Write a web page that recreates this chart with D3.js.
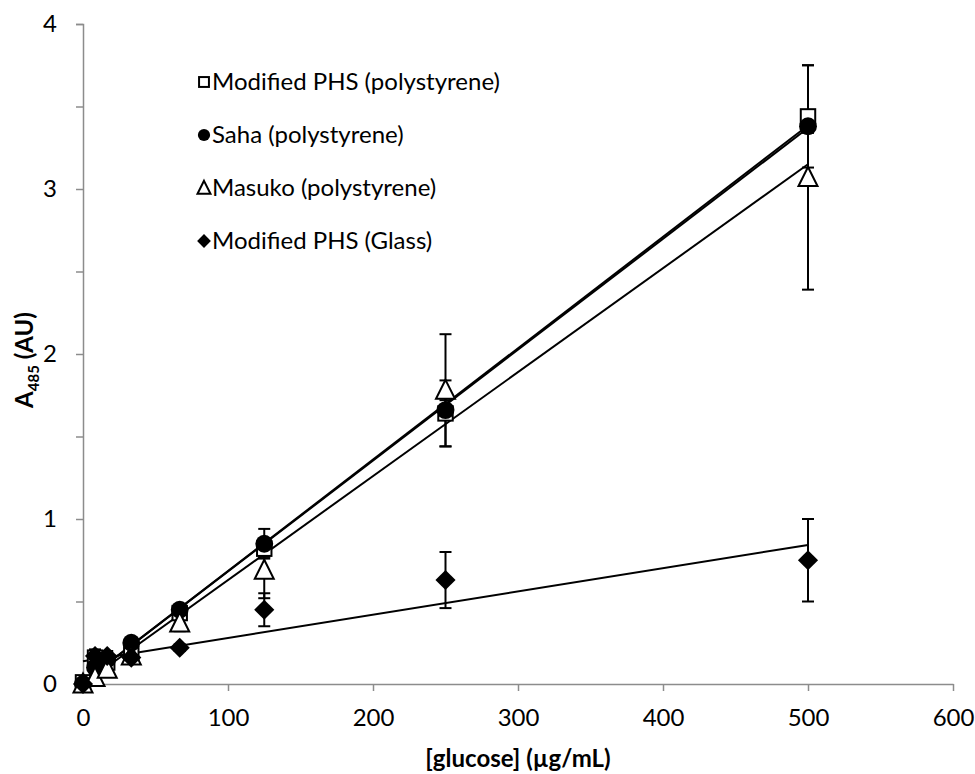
<!DOCTYPE html>
<html>
<head>
<meta charset="utf-8">
<script src="https://cdn.jsdelivr.net/npm/d3@7"></script>
<style>
  body { margin: 0; background: #fff; }
  text { font-family: Lato, "Open Sans", sans-serif; fill: #000; }
</style>
</head>
<body>
<svg id="chart" width="975" height="774"></svg>
<script>
// glucose concentrations (µg/mL)
const glucose = [0, 8.3, 16.7, 33.3, 66.7, 125, 250, 500];

// absorbance values per series
const phsPoly    = [0.01, 0.16, 0.13, 0.18, 0.43, 0.82, 1.64, 3.44];
const phsPolyErr = [0.02, 0.05, 0.04, 0.03, 0.03, 0.05, 0.20, 0.31];
const saha       = [0.00, 0.10, 0.15, 0.25, 0.45, 0.85, 1.66, 3.38];
const sahaErr    = [0.01, 0.03, 0.03, 0.02, 0.03, 0.09, 0.06, 0.04];
const masuko     = [0.00, 0.04, 0.09, 0.17, 0.37, 0.69, 1.78, 3.07];
const masukoErr  = [0.01, 0.02, 0.03, 0.03, 0.05, 0.17, 0.34, 0.68];
const glass      = [0.00, 0.17, 0.17, 0.16, 0.22, 0.45, 0.63, 0.75];
const glassErr   = [0.01, 0.03, 0.03, 0.02, 0.02, 0.10, 0.17, 0.25];

// linear trendlines (slope, intercept)
const fitSlope     = [0.00672, 0.00675, 0.00630, 0.00141];
const fitIntercept = [0.01, 0.01, 0.00, 0.138];

const seriesNames = [
  'Modified PHS (polystyrene)',
  'Saha (polystyrene)',
  'Masuko (polystyrene)',
  'Modified PHS (Glass)'
];
const seriesShapes = ['square', 'circle', 'triangle', 'diamond'];
const xTicks = [0, 100, 200, 300, 400, 500, 600];
const yTicks = [0, 1, 2, 3, 4];

(function scatter(){
  const svg = d3.select('#chart');
  const margin = { top: 24, right: 22, bottom: 90, left: 83 };
  const w = +svg.attr('width') - margin.left - margin.right;
  const h = +svg.attr('height') - margin.top - margin.bottom;
  const g = svg.append('g').attr('transform', `translate(${margin.left},${margin.top})`);

  const x = d3.scaleLinear().domain([0, 600]).range([0, w]);
  const y = d3.scaleLinear().domain([0, 4]).range([h, 0]);

  const values = [phsPoly, saha, masuko, glass];
  const errs = [phsPolyErr, sahaErr, masukoErr, glassErr];
  const series = values.map((vals, i) => ({
    name: seriesNames[i],
    shape: seriesShapes[i],
    slope: fitSlope[i],
    icpt: fitIntercept[i],
    pts: vals.map((v, j) => ({ x: glucose[j], y: v, e: errs[i][j] }))
  }));

  const axisColor = '#8c8c8c';

  // y axis, minor ticks every 0.5
  const yAxis = g.append('g')
    .call(d3.axisLeft(y).tickValues(d3.range(0, 4.01, 0.5)).tickSize(7)
      .tickFormat(d => yTicks.includes(d) ? d : ''));
  yAxis.select('.domain').attr('stroke', axisColor).attr('stroke-width', 1.5);
  yAxis.selectAll('.tick line').attr('stroke', axisColor).attr('stroke-width', 1.5);
  yAxis.selectAll('.tick text').attr('x', -26).style('font-size', '24px').style('font-family', 'Lato, sans-serif');

  const xAxis = g.append('g')
    .attr('transform', `translate(0,${h})`)
    .call(d3.axisBottom(x).tickValues(xTicks).tickSize(7).tickSizeOuter(0));
  xAxis.select('.domain').attr('stroke', axisColor).attr('stroke-width', 1.5);
  xAxis.selectAll('.tick line').attr('stroke', axisColor).attr('stroke-width', 1.5);
  xAxis.selectAll('.tick text').attr('y', 25).style('font-size', '24px').style('font-family', 'Lato, sans-serif');

  // axis titles
  svg.append('text')
    .attr('x', margin.left + w / 2)
    .attr('y', 767)
    .attr('text-anchor', 'middle')
    .style('font-size', '24px')
    .style('font-weight', 'bold')
    .text('[glucose] (µg/mL)');

  const yt = svg.append('text')
    .attr('transform', `translate(33,360) rotate(-90)`)
    .attr('text-anchor', 'middle')
    .style('font-size', '24px')
    .style('font-weight', 'bold');
  yt.append('tspan').text('A');
  yt.append('tspan').attr('dy', 6).style('font-size', '15px').text('485');
  yt.append('tspan').attr('dy', -6).text(' (AU)');

  // error bars
  const eb = g.append('g').attr('stroke', '#000').attr('stroke-width', 2);
  series.forEach(s => {
    s.pts.forEach(p => {
      const cx = x(p.x);
      const y0 = y(p.y - p.e), y1 = y(p.y + p.e);
      eb.append('line').attr('x1', cx).attr('x2', cx).attr('y1', y0).attr('y2', y1);
      eb.append('line').attr('x1', cx - 6).attr('x2', cx + 6).attr('y1', y0).attr('y2', y0);
      eb.append('line').attr('x1', cx - 6).attr('x2', cx + 6).attr('y1', y1).attr('y2', y1);
    });
  });

  // trendlines across the data range
  g.append('g').selectAll('line')
    .data(series)
    .join('line')
      .attr('x1', x(0))
      .attr('y1', d => y(d.icpt))
      .attr('x2', x(d3.max(glucose)))
      .attr('y2', d => y(d.icpt + d.slope * d3.max(glucose)))
      .attr('stroke', '#000')
      .attr('stroke-width', 2);

  // markers
  function drawMarker(sel, shape, s) {
    if (shape === 'square') {
      sel.append('rect').attr('x', -s * 0.38).attr('y', -s * 0.38)
        .attr('width', s * 0.76).attr('height', s * 0.76)
        .attr('fill', '#fff').attr('stroke', '#000').attr('stroke-width', 2);
    } else if (shape === 'circle') {
      sel.append('circle').attr('r', s * 0.47).attr('fill', '#000');
    } else if (shape === 'triangle') {
      sel.append('path')
        .attr('d', `M0,${-s * 0.55}L${s * 0.5},${s * 0.45}L${-s * 0.5},${s * 0.45}Z`)
        .attr('fill', '#fff').attr('stroke', '#000').attr('stroke-width', 2);
    } else {
      sel.append('path')
        .attr('d', `M0,${-s * 0.53}L${s * 0.53},0L0,${s * 0.53}L${-s * 0.53},0Z`)
        .attr('fill', '#000');
    }
  }

  series.forEach(s => {
    g.append('g').selectAll('g')
      .data(s.pts)
      .join('g')
        .attr('transform', d => `translate(${x(d.x)},${y(d.y)})`)
        .each(function() { drawMarker(d3.select(this), s.shape, 19); });
  });

  // legend
  const legend = svg.append('g').attr('transform', 'translate(204,82)');
  const items = legend.selectAll('g')
    .data(series)
    .join('g')
      .attr('transform', (d, i) => `translate(0,${i * 53})`);
  items.each(function(d) { drawMarker(d3.select(this), d.shape, 13); });
  items.append('text')
    .attr('x', 8)
    .attr('dy', '0.35em')
    .style('font-size', '24px')
    .text(d => d.name);
})();
</script>
</body>
</html>
